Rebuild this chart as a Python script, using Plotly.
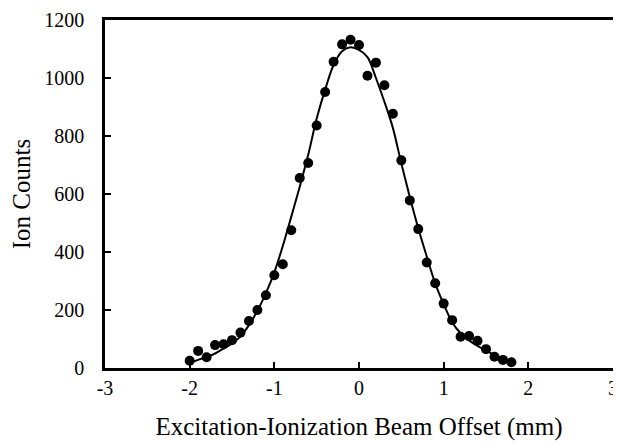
import plotly.graph_objects as go

# Measured data points
x_data = [-2.0, -1.9, -1.8, -1.7, -1.6, -1.5, -1.4, -1.3, -1.2, -1.1, -1.0,
          -0.9, -0.8, -0.7, -0.6, -0.5, -0.4, -0.3, -0.2, -0.1, 0.0,
          0.1, 0.2, 0.3, 0.4, 0.5, 0.6, 0.7, 0.8, 0.9, 1.0,
          1.1, 1.2, 1.3, 1.4, 1.5, 1.6, 1.7, 1.8]
y_data = [25, 59, 37, 79, 82, 96, 122, 162, 200, 251, 320,
          358, 475, 655, 707, 836, 952, 1056, 1116, 1132, 1114,
          1008, 1053, 975, 877, 716, 578, 479, 364, 292, 222,
          165, 108, 110, 94, 65, 39, 28, 20]

# Fit curve
x_fit = [-2.0, -1.9, -1.8, -1.7, -1.6, -1.5, -1.4, -1.3, -1.2, -1.1, -1.0,
         -0.9, -0.8, -0.7, -0.6, -0.5, -0.4, -0.3, -0.2, -0.1, 0.0,
         0.1, 0.2, 0.3, 0.4, 0.5, 0.6, 0.7, 0.8, 0.9, 1.0,
         1.1, 1.2, 1.3, 1.4, 1.5, 1.6, 1.7, 1.8]
y_fit = [18, 28, 38, 50, 67, 85, 108, 148, 197, 258, 330,
         421, 522, 625, 735, 860, 960, 1045, 1092, 1106, 1097,
         1072, 1000, 918, 828, 705, 590, 482, 385, 292, 220,
         158, 120, 95, 76, 60, 45, 33, 24]

x_ticks = [-3, -2, -1, 0, 1, 2, 3]
y_ticks = [0, 200, 400, 600, 800, 1000, 1200]

fig = go.Figure()
fig.add_trace(go.Scatter(x=x_fit, y=y_fit, mode="lines",
                         line=dict(color="black", width=2, shape="spline"),
                         showlegend=False, hoverinfo="skip"))
fig.add_trace(go.Scatter(x=x_data, y=y_data, mode="markers",
                         marker=dict(color="black", size=10),
                         showlegend=False))

font_family = "Liberation Serif, Times New Roman, serif"
# page body adds an 8px offset, so the figure is sized/margined to compensate
fig.update_layout(
    width=613, height=437,
    margin=dict(l=97, r=8, t=12, b=77),
    paper_bgcolor="white", plot_bgcolor="white",
    font=dict(family=font_family, color="black", size=20),
    xaxis=dict(range=[-3, 3], tickvals=x_ticks, ticktext=[str(v) for v in x_ticks],
               showgrid=False, zeroline=False, showline=True, linecolor="black",
               linewidth=2.5, mirror=True, ticks="inside", ticklen=6, tickwidth=2,
               tickcolor="black", tickfont=dict(size=20), automargin=False,
               ticklabelstandoff=0,
               title=dict(text="Excitation-Ionization Beam Offset (mm)",
                          font=dict(size=25), standoff=20)),
    yaxis=dict(range=[0, 1200], tickvals=y_ticks, ticktext=[str(v) for v in y_ticks],
               showgrid=False, zeroline=False, showline=True, linecolor="black",
               linewidth=2.5, mirror=True, ticks="inside", ticklen=6, tickwidth=2,
               tickcolor="black", tickfont=dict(size=20), automargin=False,
               ticklabelstandoff=14,
               title=dict(text="Ion Counts", font=dict(size=25), standoff=18)),
)

fig.write_html("out.html")
